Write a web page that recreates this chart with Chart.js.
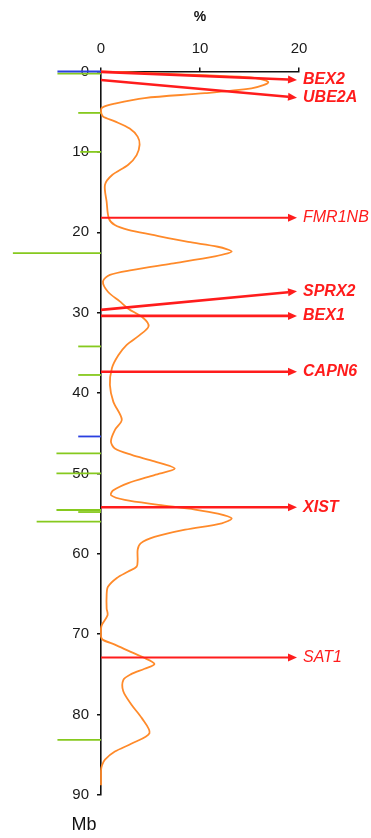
<!DOCTYPE html>
<html>
<head>
<meta charset="utf-8">
<script src="https://cdn.jsdelivr.net/npm/chart.js@4.4.1/dist/chart.umd.min.js"></script>
<style>
  html, body { margin: 0; padding: 0; background: #ffffff; }
  canvas { display: block; }
</style>
</head>
<body>
<canvas id="chart" width="371" height="838"></canvas>
<script>
// Density curve along the chromosome: position (Mb) and percentage
const curveMb = [0, 0.05, 0.35, 0.6, 0.8, 1.1, 1.35, 1.7, 2.1, 2.7, 3.3, 4.0, 4.5, 5.0, 5.6, 6.2, 7.1, 8.1, 9.1, 10.4,
  11.6, 12.9, 14.1, 16.2, 18.3, 19.1, 19.7, 20.3, 21.2, 21.8, 22.4, 23.0, 23.9, 24.7, 25.3, 26.1, 27.4, 28.6, 29.5, 30.7,
  31.7, 32.8, 34.0, 35.3, 36.9, 39.0, 41.1, 43.3, 44.6, 46.0, 46.9, 47.7, 48.5, 49.4, 50.2, 51.2, 52.1, 52.7, 53.3, 53.9,
  54.5, 55.0, 55.6, 56.2, 57.0, 57.9, 58.7, 59.5, 60.8, 61.6, 62.2, 63.0, 64.1, 65.1, 66.8, 67.6, 68.8, 69.3, 70.3, 70.7,
  71.3, 72.2, 72.9, 73.7, 74.3, 75.0, 75.7, 77.1, 78.8, 80.4, 82.3, 83.6, 84.6, 85.6, 86.3, 87.0, 88.8];
const curvePct = [0, 2.0, 8.0, 13.0, 15.5, 16.6, 16.9, 16.4, 15.2, 10.5, 4.4, 1.4, 0.1, 0, 0.2, 1.4, 2.9, 3.7, 3.9, 3.6,
  2.75, 1.1, 0.4, 0.57, 0.8, 1.4, 2.75, 5.1, 8.8, 11.8, 13.2, 11.5, 7.1, 3.1, 0.9, 0.2, 0.7, 1.9, 2.75, 4.3,
  4.8, 3.9, 2.6, 1.75, 1.1, 0.9, 1.25, 2.1, 1.4, 1.0, 1.4, 3.1, 5.4, 7.45, 5.4, 2.75, 1.25, 1.0, 2.4, 5.8,
  9.5, 11.8, 13.2, 12.2, 8.5, 5.4, 4.0, 3.7, 3.7, 3.6, 2.75, 1.6, 0.7, 0.57, 0.57, 0.67, 0.1, 0, 0, 0.2,
  1.4, 3.0, 4.3, 5.4, 4.4, 3.0, 2.25, 2.25, 3.1, 4.1, 4.9, 3.1, 1.4, 0.4, 0.1, 0, 0];

// Genes: arrow from the axis (start, Mb) to the label (end, Mb)
const geneNames   = ['BEX2', 'UBE2A', 'FMR1NB', 'SPRX2', 'BEX1', 'CAPN6', 'XIST', 'SAT1'];
const geneStartMb = [0.05, 1.05, 18.2, 29.65, 30.4, 37.35, 54.2, 72.9];
const geneEndMb   = [1.05, 3.25, 18.2, 27.35, 30.4, 37.35, 54.2, 72.9];
const geneBold    = [true, true, false, true, true, true, true, false];

// Marks to the left of the axis: position (Mb), extent (%), kind
const markerMb   = [0, 0.27, 5.15, 10.0, 22.6, 34.2, 37.75, 45.4, 47.5, 50.0, 54.55, 54.8, 56.0, 83.15];
const markerPct  = [-4.4, -4.4, -2.3, -2.1, -8.9, -2.3, -2.3, -2.3, -4.5, -4.5, -4.5, -2.3, -6.5, -4.4];
const markerKind = ['blue', 'green', 'green', 'green', 'green', 'green', 'green', 'blue', 'green', 'green', 'green', 'green', 'green', 'green'];

// Axis ticks
const xTicks = [0, 10, 20];
const yTicks = [0, 10, 20, 30, 40, 50, 60, 70, 80, 90];

const RED = '#ff1c1c';
const ORANGE = '#ff8a2a';
const KIND_COLOR = { green: '#86c91e', blue: '#2a3fe0' };
const FONT = '"Liberation Sans", Arial, sans-serif';

const curveData = curveMb.map((mb, i) => ({ x: curvePct[i], y: mb }));

const markerSets = markerMb.map((mb, i) => ({
  data: [{ x: markerPct[i], y: mb }, { x: 0, y: mb }],
  borderColor: KIND_COLOR[markerKind[i]],
  borderWidth: 1.8,
  pointRadius: 0,
  showLine: true,
  clip: false
}));

// Arrows and gene labels, placed through the chart scales
const geneArrows = {
  id: 'geneArrows',
  afterDatasetsDraw(chart) {
    const { ctx, scales: { x, y } } = chart;
    const tipPct = 19.8, head = 9, half = 4;
    ctx.save();
    geneNames.forEach((name, i) => {
      const x0 = x.getPixelForValue(0), y0 = y.getPixelForValue(geneStartMb[i]);
      const x1 = x.getPixelForValue(tipPct), y1 = y.getPixelForValue(geneEndMb[i]);
      const a = Math.atan2(y1 - y0, x1 - x0), c = Math.cos(a), s = Math.sin(a);
      ctx.strokeStyle = RED;
      ctx.fillStyle = RED;
      ctx.lineWidth = geneBold[i] ? 2.6 : 1.9;
      ctx.beginPath();
      ctx.moveTo(x0, y0);
      ctx.lineTo(x1 - head * c, y1 - head * s);
      ctx.stroke();
      ctx.beginPath();
      ctx.moveTo(x1, y1);
      ctx.lineTo(x1 - head * c + half * s, y1 - head * s - half * c);
      ctx.lineTo(x1 - head * c - half * s, y1 - head * s + half * c);
      ctx.closePath();
      ctx.fill();
      ctx.font = 'italic ' + (geneBold[i] ? 'bold ' : '') + '16px ' + FONT;
      ctx.textBaseline = 'middle';
      ctx.textAlign = 'left';
      ctx.fillText(name, x1 + 6, y1);
    });
    ctx.restore();
  }
};

// Axis titles: "%" above the top axis, "Mb" below the vertical axis
const axisTitles = {
  id: 'axisTitles',
  afterDraw(chart) {
    const { ctx, scales: { x, y } } = chart;
    ctx.save();
    ctx.fillStyle = '#111';
    ctx.textAlign = 'center';
    ctx.textBaseline = 'middle';
    ctx.font = 'bold 14px ' + FONT;
    ctx.fillText('%', x.getPixelForValue(10), 17);
    ctx.font = '18px ' + FONT;
    ctx.fillText('Mb', y.right - 17, y.bottom + 30);
    ctx.restore();
  }
};

new Chart(document.getElementById('chart'), {
  type: 'scatter',
  data: {
    datasets: [
      {
        data: curveData,
        showLine: true,
        borderColor: ORANGE,
        borderWidth: 1.8,
        pointRadius: 0,
        tension: 0.3,
        clip: false
      },
      ...markerSets
    ]
  },
  options: {
    responsive: false,
    animation: false,
    devicePixelRatio: 1,
    layout: { padding: { left: 0, right: 72, top: 0, bottom: 43 } },
    plugins: { legend: { display: false }, tooltip: { enabled: false } },
    scales: {
      x: {
        type: 'linear',
        position: 'top',
        min: 0,
        max: 20,
        afterBuildTicks: (s) => { s.ticks = xTicks.map(v => ({ value: v })); },
        afterFit: (s) => { s.height = 71.5; },
        grid: { drawOnChartArea: false, drawTicks: true, tickLength: 4, color: '#111', lineWidth: 1.5 },
        border: { color: '#111', width: 1.6 },
        ticks: { color: '#1a1a1a', padding: 10, font: { size: 15, family: FONT } }
      },
      y: {
        type: 'linear',
        position: 'left',
        reverse: true,
        min: 0,
        max: 90,
        afterBuildTicks: (s) => { s.ticks = yTicks.map(v => ({ value: v })); },
        afterFit: (s) => { s.width = 101; },
        grid: { drawOnChartArea: false, drawTicks: true, tickLength: 4, color: '#111', lineWidth: 1.5 },
        border: { color: '#111', width: 1.6 },
        ticks: { color: '#1a1a1a', padding: 8, font: { size: 15, family: FONT } }
      }
    }
  },
  plugins: [geneArrows, axisTitles]
});
</script>
</body>
</html>
